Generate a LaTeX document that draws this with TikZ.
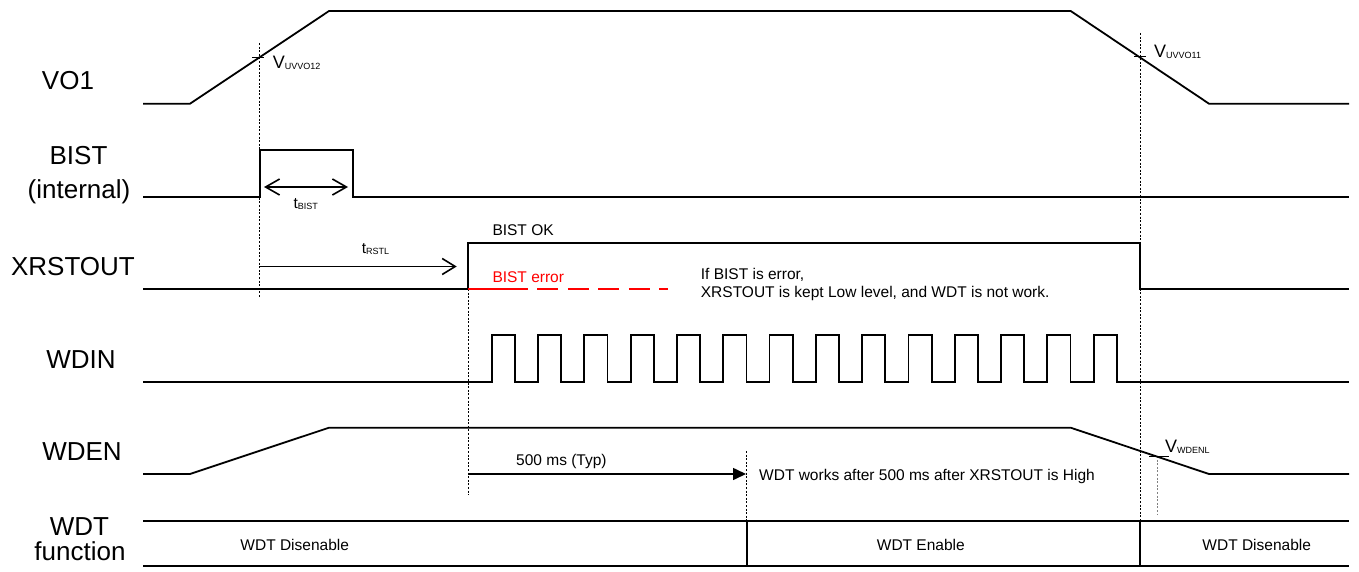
\documentclass[tikz,border=0pt]{standalone}
\usepackage{fontspec}
\setmainfont{Liberation Sans}
\usetikzlibrary{arrows.meta}
\newcommand\mysub[1]{\raisebox{-1pt}{\fontsize{9}{9}\selectfont #1}}
\begin{document}
\begin{tikzpicture}[x=1pt,y=-1pt,
  sig/.style={line width=1.8pt, line join=miter},
  guide/.style={line width=0.9pt, dash pattern=on 2pt off 1.6pt},
  gguide/.style={line width=0.9pt, gray, dash pattern=on 2pt off 1.6pt},
  big/.style={font=\fontsize{26}{28}\selectfont, inner sep=0pt, anchor=base},
  small/.style={font=\fontsize{15.5}{17}\selectfont, inner sep=0pt, anchor=base west},
  vlab/.style={font=\fontsize{18}{20}\selectfont, inner sep=0pt, anchor=base west},
  barbs/.style={line width=1.6pt, {Straight Barb[length=14pt,width=16pt]}-{Straight Barb[length=14pt,width=16pt]}},
  barb/.style={line width=1.6pt, -{Straight Barb[length=13pt,width=16pt]}},
  tri/.style={line width=1.6pt, -{Triangle[length=13pt,width=12pt]}},
  tick/.style={line width=0.9pt}
 ]
\useasboundingbox (0,0) rectangle (1359,572);

% left labels
\node[big] (lVO) at (68,90) {VO1};
\node[big] (lBIST) at (78.5,165) {BIST};
\node[big] (lint) at (79,199) {(internal)};
\node[big] (lX) at (73,275) {XRSTOUT};
\node[big] (lWDIN) at (81,368) {WDIN};
\node[big] (lWDEN) at (82,460) {WDEN};
\node[big] (lWDT) at (79.5,535) {WDT};
\node[big] (lfun) at (80,560) {function};

% guide lines
\coordinate (g1t) at (259.5,43);  \coordinate (g1b) at (259.5,298);
\coordinate (g2t) at (468,289);   \coordinate (g2b) at (468,495);
\coordinate (g3t) at (746.7,451); \coordinate (g3b) at (746.7,520.7);
\coordinate (g4t) at (1140,33);   \coordinate (g4b) at (1140,520.7);
\coordinate (g5t) at (1157.3,456);\coordinate (g5b) at (1157.3,514);
\draw[guide] (g1t) -- (g1b);
\draw[guide] (g2t) -- (g2b);
\draw[guide] (g3t) -- (g3b);
\draw[guide] (g4t) -- (g4b);
\draw[gguide] (g5t) -- (g5b);

% VO1
\draw[sig] (143,103.7) -- (190,103.7) -- (329,11) -- (1070.7,11) -- (1209,103.7) -- (1349,103.7);
\draw[tick] (252,57) -- (264,57);
\draw[tick] (1134,56.5) -- (1146,56.5);
\node[vlab] (v12) at (272.7,69) {V\mysub{UVVO12}};
\node[vlab] (v11) at (1154,57.5) {V\mysub{UVVO11}};

% BIST
\draw[sig] (143,196.7) -- (259.7,196.7) -- (259.7,150.3) -- (352.7,150.3) -- (352.7,196.7) -- (1349,196.7);
\coordinate (tbA) at (264,187); \coordinate (tbB) at (348,187);
\draw[barbs] (tbA) -- (tbB);
\node[small] (tbist) at (293.3,208.5) {t\mysub{BIST}};

% XRSTOUT
\draw[sig] (143,289) -- (468,289) -- (468,242.7) -- (1140,242.7) -- (1140,289) -- (1349,289);
\coordinate (trA) at (259.5,266.5); \coordinate (trB) at (456.7,266.5);
\draw[barb] (trA) -- (trB);
\node[small] (trstl) at (361.7,253) {t\mysub{RSTL}};
\node[small] (bok) at (492.3,235.7) {BIST OK};
\node[small, text=red] (berr) at (492.3,282.5) {BIST error};
\draw[red, line width=1.8pt] (468,289) -- (528,289);
\draw[red, line width=1.8pt, dash pattern=on 21pt off 9.5pt] (537.3,289) -- (668,289);
\node[small] (note1) at (700.7,279) {If BIST is error,};
\node[small] (note2) at (700.7,297.7) {XRSTOUT is kept Low level, and WDT is not work.};

% WDIN
\draw[sig] (143,382) -- (491.7,382)
  \foreach \k in {0,...,13}{ -- ++(0,-47) -- ++(23.2,0) -- ++(0,47) -- ++(23.1,0)} -- (1349,382);

% WDEN
\draw[sig] (143,474) -- (190,474) -- (329,427.7) -- (1070.7,427.7) -- (1209,474) -- (1349,474);
\draw[tick] (1149,456) -- (1169,456);
\node[vlab] (vwd) at (1165,452.5) {V\mysub{WDENL}};
\coordinate (t5A) at (468,474); \coordinate (t5B) at (746,474);
\draw[tri] (t5A) -- (t5B);
\node[small] (t500) at (516,465) {500 ms (Typ)};
\node[small] (works) at (759,480) {WDT works after 500 ms after XRSTOUT is High};

% WDT function
\draw[sig, line width=1.6pt] (143,520.7) -- (1349,520.7);
\draw[sig, line width=1.6pt] (143,566) -- (1349,566);
\draw[sig, line width=1.6pt] (746.7,520.7) -- (746.7,566);
\draw[sig, line width=1.6pt] (1140,520.7) -- (1140,566);
\node[small, anchor=base] (fd1) at (294.7,550) {WDT Disenable};
\node[small, anchor=base] (fen) at (920.8,550) {WDT Enable};
\node[small, anchor=base] (fd2) at (1256.7,550) {WDT Disenable};
\end{tikzpicture}
\end{document}
